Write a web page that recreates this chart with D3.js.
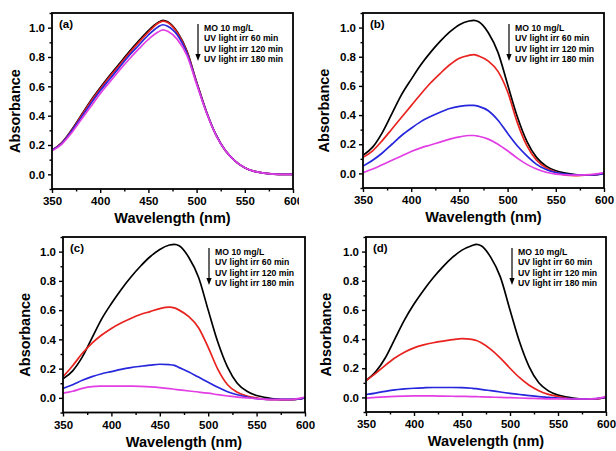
<!DOCTYPE html>
<html><head><meta charset="utf-8">
<script src="https://cdn.jsdelivr.net/npm/d3@7"></script>
<style>
body{margin:0;background:#fff}
text{font-family:"Liberation Sans",Arial,sans-serif;font-weight:bold;fill:#000}
</style>
</head><body><svg id="chart" width="616" height="451"></svg>
<script>
// ---------- data ----------
const wavelengths = [350,360,370,380,390,400,410,420,430,440,450,460,465,470,480,490,500,510,520,530,540,550,560,570,580,590,600];
const seriesNames = ["MO 10 mg/L","UV light irr 60 min","UV light irr 120 min","UV light irr 180 min"];
const seriesColors = ["#000000","#e8221e","#2626dc","#e23ee4"];
const panelLabels = ["(a)","(b)","(c)","(d)"];
const xTickValues = [350,400,450,500,550,600];
const yTickValues = [0.0,0.2,0.4,0.6,0.8,1.0];
const xTitle = "Wavelength (nm)";
const yTitle = "Absorbance";

// panel (a)
const a_mo   = [0.165,0.215,0.30,0.40,0.50,0.59,0.675,0.755,0.835,0.91,0.98,1.035,1.05,1.04,0.97,0.84,0.63,0.43,0.27,0.16,0.09,0.045,0.02,0.008,0.002,0.0,0.0];
const a_60   = [0.165,0.213,0.295,0.395,0.493,0.582,0.667,0.745,0.825,0.90,0.97,1.03,1.045,1.035,0.965,0.835,0.628,0.43,0.27,0.16,0.09,0.045,0.02,0.008,0.002,0.0,0.0];
const a_120  = [0.165,0.21,0.29,0.385,0.48,0.57,0.65,0.73,0.81,0.88,0.95,1.005,1.02,1.01,0.95,0.825,0.622,0.428,0.27,0.16,0.09,0.045,0.02,0.008,0.002,0.0,0.0];
const a_180  = [0.16,0.205,0.28,0.37,0.46,0.55,0.63,0.71,0.785,0.855,0.92,0.97,0.985,0.975,0.92,0.81,0.615,0.425,0.268,0.16,0.09,0.045,0.02,0.008,0.002,0.0,0.0];
// panel (b)
const b_mo   = [0.125,0.18,0.28,0.41,0.54,0.645,0.745,0.83,0.905,0.97,1.02,1.045,1.05,1.04,0.965,0.83,0.61,0.39,0.22,0.11,0.05,0.018,0.002,-0.008,-0.012,-0.01,0.0];
const b_60   = [0.11,0.155,0.225,0.305,0.385,0.465,0.545,0.62,0.685,0.745,0.79,0.81,0.815,0.805,0.77,0.70,0.56,0.35,0.19,0.09,0.038,0.01,-0.012,-0.015,-0.012,-0.01,0.0];
const b_120  = [0.05,0.09,0.14,0.20,0.26,0.31,0.355,0.39,0.42,0.445,0.46,0.467,0.467,0.46,0.43,0.365,0.275,0.19,0.12,0.062,0.027,0.006,-0.005,-0.01,-0.01,-0.01,0.0];
const b_180  = [0.005,0.03,0.06,0.09,0.12,0.15,0.175,0.195,0.215,0.235,0.25,0.26,0.26,0.255,0.235,0.20,0.155,0.105,0.062,0.03,0.008,-0.005,-0.01,-0.012,-0.01,-0.005,0.005];
// panel (c)
const c_mo   = [0.13,0.185,0.28,0.41,0.54,0.645,0.74,0.825,0.90,0.965,1.015,1.045,1.05,1.04,0.96,0.825,0.60,0.38,0.21,0.10,0.045,0.016,0.002,-0.008,-0.012,-0.01,0.0];
const c_60   = [0.145,0.22,0.305,0.375,0.43,0.475,0.512,0.543,0.57,0.59,0.61,0.62,0.615,0.60,0.555,0.48,0.345,0.195,0.09,0.038,0.013,0.0,-0.01,-0.012,-0.012,-0.01,0.0];
const c_120  = [0.065,0.09,0.12,0.145,0.165,0.18,0.195,0.207,0.216,0.224,0.23,0.227,0.222,0.207,0.177,0.142,0.107,0.072,0.042,0.021,0.006,-0.005,-0.01,-0.01,-0.01,-0.01,0.0];
const c_180  = [0.032,0.045,0.065,0.077,0.08,0.081,0.081,0.08,0.078,0.075,0.07,0.063,0.059,0.055,0.047,0.04,0.032,0.022,0.013,0.005,0.0,-0.005,-0.01,-0.012,-0.012,-0.008,0.005];
// panel (d)
const d_mo   = [0.115,0.175,0.27,0.40,0.53,0.64,0.735,0.82,0.895,0.96,1.01,1.04,1.05,1.04,0.96,0.825,0.60,0.38,0.21,0.10,0.045,0.016,0.002,-0.008,-0.012,-0.01,0.0];
const d_60   = [0.115,0.165,0.22,0.27,0.31,0.34,0.36,0.375,0.386,0.396,0.403,0.398,0.39,0.375,0.33,0.27,0.20,0.135,0.083,0.046,0.021,0.006,-0.006,-0.012,-0.012,-0.01,0.0];
const d_120  = [0.02,0.03,0.042,0.052,0.058,0.063,0.066,0.068,0.068,0.068,0.067,0.063,0.06,0.055,0.046,0.037,0.028,0.02,0.012,0.005,0.0,-0.005,-0.008,-0.01,-0.01,-0.008,0.0];
const d_180  = [-0.005,0.0,0.004,0.007,0.009,0.01,0.01,0.01,0.009,0.008,0.007,0.006,0.005,0.004,0.002,0.0,-0.002,-0.004,-0.006,-0.008,-0.01,-0.01,-0.011,-0.011,-0.011,-0.008,0.008];

const panelSeries = [
  [a_mo,a_60,a_120,a_180],
  [b_mo,b_60,b_120,b_180],
  [c_mo,c_60,c_120,c_180],
  [d_mo,d_60,d_120,d_180]
];

// ---------- layout ----------
const frames = [
  {l:52, r:293, t:13, b:189, clipRight:299, yTitleX:20},
  {l:363,r:604, t:13, b:188, clipRight:616, yTitleX:329},
  {l:63, r:305, t:237,b:412.5, clipRight:616, yTitleX:30},
  {l:366,r:606, t:237,b:412, clipRight:616, yTitleX:331}
];

const svg = d3.select("#chart");
const defs = svg.append("defs");

frames.forEach((f, i) => {
  defs.append("clipPath").attr("id","pc"+i).append("rect")
    .attr("x",0).attr("y",0).attr("width",f.clipRight).attr("height",451);
  defs.append("clipPath").attr("id","plot"+i).append("rect")
    .attr("x",f.l).attr("y",f.t).attr("width",f.r-f.l).attr("height",f.b-f.t);

  const g = svg.append("g").attr("clip-path","url(#pc"+i+")");
  const x = d3.scaleLinear().domain([350,600]).range([f.l,f.r]);
  const y = d3.scaleLinear().domain([-0.1,1.1]).range([f.b,f.t]);

  // lines
  const line = d3.line().x((d,k)=>x(wavelengths[k])).y(d=>y(d)).curve(d3.curveMonotoneX);
  const lg = g.append("g").attr("clip-path","url(#plot"+i+")");
  panelSeries[i].forEach((s, j) => {
    lg.append("path").attr("d", line(s)).attr("fill","none")
      .attr("stroke", seriesColors[j]).attr("stroke-width",1.7);
  });

  // axes
  const xAxis = d3.axisBottom(x).tickValues(xTickValues).tickFormat(d3.format("d")).tickSize(4).tickPadding(4);
  const xMinor = d3.axisBottom(x).tickValues([375,425,475,525,575]).tickFormat("").tickSize(2.5);
  const yAxis = d3.axisLeft(y).tickValues(yTickValues).tickFormat(d3.format(".1f")).tickSize(4).tickPadding(3);
  const yMinor = d3.axisLeft(y).tickValues([-0.1,0.1,0.3,0.5,0.7,0.9,1.1]).tickFormat("").tickSize(2.5);

  const gx = g.append("g").attr("transform",`translate(0,${f.b})`).call(xAxis);
  g.append("g").attr("transform",`translate(0,${f.b})`).call(xMinor);
  const gy = g.append("g").attr("transform",`translate(${f.l},0)`).call(yAxis);
  g.append("g").attr("transform",`translate(${f.l},0)`).call(yMinor);
  g.selectAll(".domain").remove();
  g.selectAll(".tick line").attr("stroke","#000").attr("stroke-width",1.4);
  gx.selectAll("text").style("font-size","11.5px").attr("fill","#000");
  gy.selectAll("text").style("font-size","11.5px").attr("fill","#000");

  // frame
  g.append("rect").attr("x",f.l).attr("y",f.t).attr("width",f.r-f.l).attr("height",f.b-f.t)
    .attr("fill","none").attr("stroke","#000").attr("stroke-width",1.8);

  // titles
  g.append("text").attr("x",(f.l+f.r)/2).attr("y",f.b+34).attr("text-anchor","middle")
    .style("font-size","14.5px").text(xTitle);
  g.append("text").attr("transform",`translate(${f.yTitleX},${(f.t+f.b)/2+10}) rotate(-90)`)
    .attr("text-anchor","middle").style("font-size","14.5px").text(yTitle);

  // panel label
  g.append("text").attr("x",f.l+7).attr("y",f.t+15).style("font-size","11.5px").text(panelLabels[i]);

  // legend with arrow
  const ax = f.l+146;
  g.append("line").attr("x1",ax).attr("x2",ax).attr("y1",f.t+11).attr("y2",f.t+43)
    .attr("stroke","#000").attr("stroke-width",1.2);
  g.append("path").attr("d",`M${ax-2.6},${f.t+41} L${ax+2.6},${f.t+41} L${ax},${f.t+48} Z`).attr("fill","#000");
  seriesNames.forEach((n, j) => {
    g.append("text").attr("x",f.l+152).attr("y",f.t+17.5+j*10.6)
      .style("font-size","8.7px").text(n);
  });
});
</script>
</body></html>
